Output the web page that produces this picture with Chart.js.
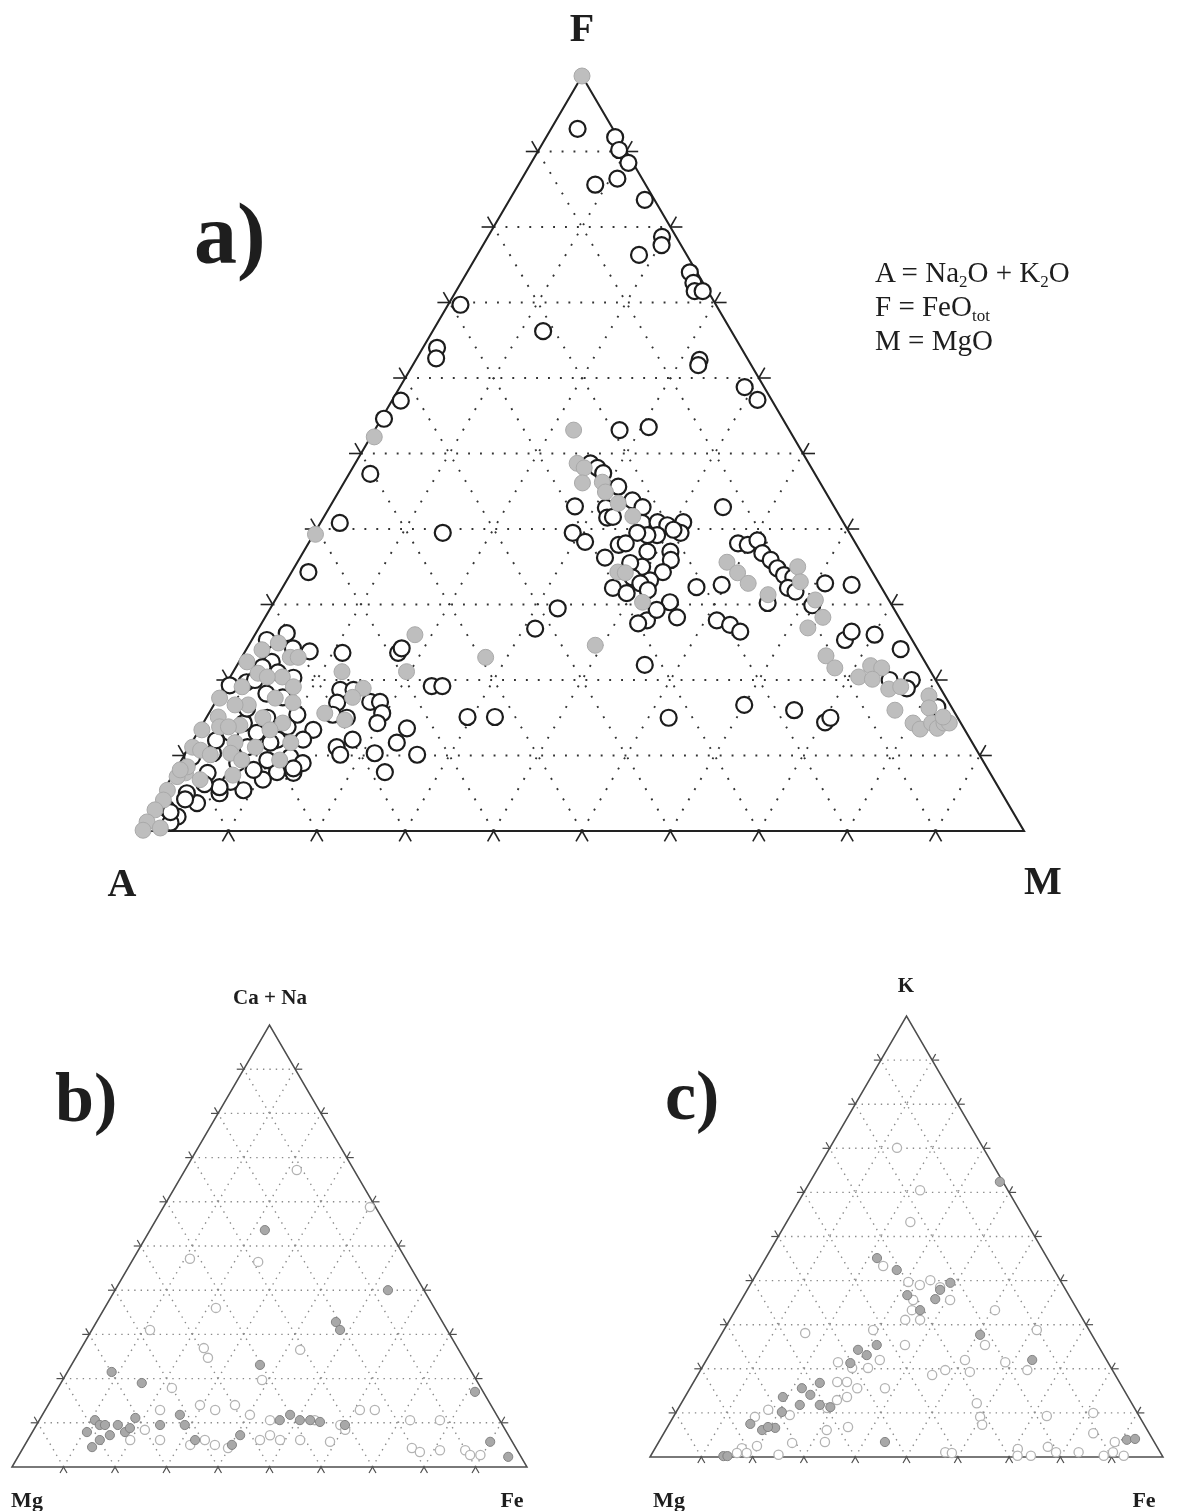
<!DOCTYPE html>
<html>
<head>
<meta charset="utf-8">
<title>Ternary diagrams</title>
<script src="https://cdn.jsdelivr.net/npm/chart.js@4/dist/chart.umd.min.js"></script>
<style>
  html, body { margin: 0; padding: 0; background: #fff; }
  body { width: 1181px; height: 1511px; position: relative; overflow: hidden;
         font-family: "Liberation Serif", "Times New Roman", "DejaVu Serif", serif; color: #1e1e1e; }
  canvas { position: absolute; }
  .lbl { position: absolute; font-weight: bold; line-height: 1; white-space: nowrap; }
  .ctr { transform: translateX(-50%); }
  .leg { position: absolute; left: 875px; font-size: 29px; line-height: 1; white-space: nowrap; }
  .leg sub { font-size: 17px; vertical-align: -5px; line-height: 0; }
</style>
</head>
<body>
<canvas id="chartA" width="1181" height="900" style="left:0;top:0"></canvas>
<canvas id="chartB" width="590" height="551" style="left:0;top:960px"></canvas>
<canvas id="chartC" width="591" height="551" style="left:590px;top:960px"></canvas>

<div class="lbl ctr" style="left:582px;top:8px;font-size:40px">F</div>
<div class="lbl ctr" style="left:122px;top:863px;font-size:40px">A</div>
<div class="lbl ctr" style="left:1043px;top:861px;font-size:40px">M</div>
<div class="lbl" style="left:194px;top:191px;font-size:86px">a)</div>
<div class="leg" style="top:258px">A = Na<sub>2</sub>O + K<sub>2</sub>O</div>
<div class="leg" style="top:292px">F = FeO<sub>tot</sub></div>
<div class="leg" style="top:326px">M = MgO</div>

<div class="lbl ctr" style="left:270px;top:987px;font-size:21px">Ca + Na</div>
<div class="lbl" style="left:55px;top:1063px;font-size:70px">b)</div>
<div class="lbl ctr" style="left:27px;top:1489px;font-size:22px">Mg</div>
<div class="lbl ctr" style="left:512px;top:1489px;font-size:22px">Fe</div>

<div class="lbl ctr" style="left:906px;top:975px;font-size:21px">K</div>
<div class="lbl" style="left:665px;top:1061px;font-size:70px">c)</div>
<div class="lbl ctr" style="left:669px;top:1489px;font-size:22px">Mg</div>
<div class="lbl ctr" style="left:1144px;top:1489px;font-size:22px">Fe</div>

<script>
// Gridline / tick positions along every edge (percent)
const TICKS = [10, 20, 30, 40, 50, 60, 70, 80, 90];

// a) AFM: each point is [F, M] in percent, A = 100 - F - M
const afmOpen = [
  [93.0,3.0],[91.9,7.8],[90.2,9.1],[88.5,11.0],[86.4,10.8],[85.6,8.7],[83.6,15.3],[78.7,19.7],[77.6,20.2],
  [76.3,18.3],[74.0,25.2],[72.6,26.3],[71.5,27.0],[71.5,27.9],[66.2,12.5],[69.7,1.4],[64.0,1.6],[62.6,2.2],
  [62.4,32.1],[61.7,32.3],[58.8,39.0],[57.1,41.3],[57.0,1.0],[54.6,0.3],[47.3,2.4],[40.8,2.2],[34.3,1.9],
  [39.5,14.5],[53.1,27.7],[53.5,30.8],
  [48.7,26.6],[48.1,27.7],[47.4,28.7],[45.6,31.3],[43.0,27.7],[42.8,31.3],[43.8,33.8],[42.9,35.4],[41.5,32.1],
  [41.6,32.7],[40.8,36.4],[40.9,38.1],[40.5,39.4],[40.9,41.0],[39.5,41.4],[39.9,40.4],[39.2,38.9],[39.2,37.8],
  [39.5,36.5],[39.5,29.2],[38.3,31.2],[37.9,35.2],[38.1,35.9],[37.0,38.9],[37.0,41.5],[35.9,42.1],[34.3,42.0],
  [35.0,39.3],[35.5,37.7],[36.2,34.5],[33.6,38.9],[33.2,41.1],[32.8,40.2],[32.2,37.4],[31.5,39.3],[31.9,41.5],
  [30.3,44.8],[28.3,46.6],[27.9,43.4],[27.5,42.6],[29.3,43.8],[32.3,46.8],[32.6,49.5],[42.9,44.5],[29.5,32.5],
  [26.8,31.3],[22.0,46.1],[15.0,52.3],
  [27.9,51.3],[27.3,53.1],[26.4,54.7],[38.1,48.6],[37.9,49.8],[38.5,50.6],[36.8,52.0],[35.9,53.4],[34.8,54.7],
  [33.9,55.9],[33.6,57.1],[32.2,57.2],[31.7,58.3],[32.8,61.1],[32.6,64.2],[30.2,55.9],[16.0,66.0],[14.4,70.3],
  [15.0,70.6],[16.7,60.0],[25.3,67.1],[26.4,67.3],[26.0,70.1],[24.1,74.0],[20.0,74.8],[20.0,77.3],[18.9,77.3],
  [16.4,82.0],[29.9,61.1],
  [23.6,17.4],[24.2,17.5],[19.2,23.4],[19.2,24.6],[15.1,29.5],[15.1,32.6],
  [26.2,3.5],[23.8,7.3],[23.6,11.1],[25.3,1.7],[24.2,5.2],[22.4,3.7],[21.7,3.0],[19.7,2.2],[19.3,0.5],
  [20.0,3.0],[20.3,7.2],[17.7,7.3],[15.4,10.1],[13.4,12.9],[12.1,12.4],[9.8,12.1],[9.0,13.9],[7.7,13.5],
  [7.8,11.6],[6.8,10.5],[5.4,9.0],[6.5,7.0],[5.0,6.5],[5.8,6.1],[3.7,4.6],[5.0,2.8],[1.9,3.3],[1.1,2.9],
  [8.1,8.8],[9.4,9.7],[11.1,6.6],[13.0,6.7],[14.3,4.6],[13.0,3.7],[15.0,6.9],[12.1,9.5],[13.8,9.8],[8.3,13.2],
  [11.7,8.9],[9.0,6.5],[7.7,3.8],[10.3,3.1],[9.8,1.0],[3.0,1.5],[2.5,2.2],[4.2,3.0],[6.2,4.2],[12.0,2.6],
  [16.2,4.0],[18.2,5.2],[21.0,5.1],
  [18.7,13.3],[18.7,14.8],[17.1,17.5],[17.1,18.6],[15.6,19.6],[14.3,19.7],[17.0,13.8],[15.4,14.1],[15.0,15.9],
  [12.1,18.0],[11.1,16.7],[10.1,17.6],[10.3,21.4],[7.8,23.8],[11.7,23.2],[13.6,23.4],[10.1,26.3]
];
const afmFilled = [
  [100,0],[52.2,0.4],[39.3,0.2],[53.1,22.5],[48.7,25.1],[48.1,26.2],[46.1,27.0],[46.2,29.2],[44.9,30.2],
  [43.4,32.4],[41.7,34.9],[34.3,36.9],[34.2,37.8],[30.3,41.7],[24.6,39.2],[23.0,27.6],
  [35.6,48.6],[34.2,50.5],[32.8,52.4],[31.3,55.4],[35.0,56.9],[33.0,58.2],[30.6,61.1],[28.3,63.1],[26.9,62.1],
  [23.2,66.0],[21.6,67.8],[21.9,71.7],[21.6,73.1],[20.4,71.1],[20.1,72.8],[18.8,75.3],[19.1,76.5],[17.9,80.3],
  [16.3,81.1],[16.0,77.4],[14.3,80.3],[13.5,81.5],[14.3,82.4],[13.6,83.4],[14.3,83.8],[14.3,84.4],[15.1,83.3],
  [24.9,3.2],[24.0,1.8],[22.4,0.9],[23.0,5.5],[23.0,6.4],[20.9,2.9],[20.4,5.9],[20.4,4.2],[19.1,2.0],
  [19.1,7.8],[17.6,0.2],[17.6,6.5],[17.0,8.8],[16.7,3.9],[16.7,2.4],[15.1,1.3],[14.0,4.3],[15.0,6.4],
  [14.3,9.0],[13.4,0.3],[13.4,8.0],[13.8,2.1],[13.8,3.1],[11.7,4.9],[11.1,7.5],[11.1,0.4],[10.7,1.5],
  [10.3,5.1],[9.4,6.8],[10.1,2.9],[11.7,11.2],[9.4,11.1],[7.7,1.3],[7.2,0.6],[6.8,3.4],[7.4,6.8],
  [5.4,0.4],[4.1,0.6],[2.8,0.3],[1.2,0.2],[0.4,2.1],[0.1,0.3],[8.5,1.1],[8.1,0.5],
  [21.1,12.3],[18.9,15.8],[17.7,15.2],[15.6,13.1],[14.7,15.8],[26.0,18.1],[21.1,19.6]
];

// b) each point is [Ca + Na, Fe] in percent, Mg = remainder
const caNaOpen = [
  [67.2,21.7],[58.8,40.1],[47.1,11.0],[46.4,24.6],[31.0,11.3],[26.9,23.8],[24.7,25.7],[19.7,38.7],[17.9,22.1],
  [12.9,22.3],[14.0,29.5],[12.9,33.0],[14.0,36.3],[11.8,40.3],[10.6,44.8],[10.6,53.5],[9.5,59.0],[6.1,34.4],
  [5.0,36.9],[6.1,45.1],[7.2,46.5],[6.1,49.0],[6.1,52.9],[5.7,58.9],[8.4,60.5],[10.6,72.0],[10.6,77.8],
  [4.3,75.5],[3.4,77.5],[3.8,81.2],[3.8,86.1],[2.7,87.6],[2.7,89.6],[6.1,25.7],[8.4,21.6],[6.1,19.9],
  [5.0,32.1],[4.3,39.8],[12.9,61.1],[12.9,64.0],[36.0,21.6],[26.5,42.7]
];
const caNaFilled = [
  [53.6,22.3],[40.0,53.0],[32.8,46.5],[31.0,48.2],[23.1,36.6],[21.5,8.6],[19.0,15.7],[11.8,26.7],[9.5,28.8],
  [6.1,32.5],[5.0,40.2],[10.6,46.7],[11.8,48.1],[10.6,50.6],[10.6,52.6],[10.2,54.7],[9.5,59.9],[10.6,10.8],
  [9.5,12.3],[9.5,13.3],[9.5,15.8],[7.9,18.0],[8.8,18.5],[11.1,18.4],[7.2,15.4],[6.1,14.0],[4.5,13.3],
  [7.9,10.6],[9.5,24.0],[17.0,81.4],[5.7,90.0],[2.3,95.2],[7.2,40.7]
];

// c) each point is [K, Fe] in percent, Mg = remainder
const kOpen = [
  [70.1,13.1],[60.5,22.4],[53.3,24.1],[43.3,23.8],[39.7,30.5],[39.0,33.1],[40.1,34.6],[38.5,37.3],[35.6,33.5],
  [33.3,34.4],[31.1,34.2],[31.1,37.1],[35.6,40.7],[33.3,50.6],[28.8,61.0],[19.7,63.7],[22.0,50.4],[19.3,52.7],
  [25.4,52.6],[21.5,58.5],[19.7,47.7],[18.6,45.7],[25.4,37.0],
  [28.1,16.2],[28.8,29.1],[21.5,25.9],[20.2,29.3],[22.0,33.8],[20.2,32.4],[17.0,28.0],[17.0,29.9],[15.6,32.6],
  [13.6,31.6],[15.6,38.0],[12.9,30.0],[11.1,29.0],[10.7,17.7],[9.5,22.5],[9.1,15.9],[6.8,35.2],[6.1,31.4],
  [3.4,32.4],[3.2,26.1],[0.5,24.8],[2.5,19.6],[2.0,16.9],[0.9,16.5],[0.9,18.4],
  [12.2,57.6],[9.1,59.8],[7.3,61.1],[1.1,57.0],[0.9,58.4],[1.8,70.8],[0.3,71.5],[0.3,74.1],[9.3,72.7],
  [2.3,76.4],[1.1,78.6],[1.1,83.0],[10.0,81.4],[5.4,83.7],[3.4,88.9],[1.1,89.7],[0.3,88.3],[0.3,92.2]
];
const kFilled = [
  [62.4,37.0],[45.1,21.7],[42.4,26.9],[36.7,31.8],[37.9,37.6],[35.8,37.7],[39.5,38.8],[33.3,36.0],[27.7,50.5],
  [22.0,63.5],
  [24.3,28.4],[23.1,30.7],[25.4,31.5],[21.3,28.4],[15.6,21.8],[16.8,24.7],[14.1,24.2],[13.6,19.1],[11.8,23.3],
  [11.8,27.2],[11.3,29.5],[7.5,15.8],[6.1,18.8],[6.6,21.1],[6.8,19.6],[10.2,20.6],[0.2,14.2],[0.2,15.0],
  [3.4,44.1],[3.9,91.0],[4.1,92.5]
];

// [top, right] composition -> cartesian position inside the triangle
const toXY = pts => pts.map(([top, right]) => ({ x: right + top / 2, y: top }));

// Triangle frame, dotted grid and arrow-head ticks, drawn beneath the points
const ternaryFrame = {
  id: 'ternaryFrame',
  beforeDatasetsDraw(chart, args, o) {
    const ctx = chart.ctx, sx = chart.scales.x, sy = chart.scales.y;
    const px = (top, right) => [sx.getPixelForValue(right + top / 2), sy.getPixelForValue(top)];
    const seg = (a, b) => { ctx.beginPath(); ctx.moveTo(a[0], a[1]); ctx.lineTo(b[0], b[1]); ctx.stroke(); };
    ctx.save();
    ctx.strokeStyle = o.gridColor;
    ctx.lineWidth = o.gridWidth;
    ctx.setLineDash(o.gridDash);
    for (const v of TICKS) {
      seg(px(v, 0), px(v, 100 - v));        // constant top component
      seg(px(0, v), px(100 - v, v));        // constant right component
      seg(px(0, 100 - v), px(100 - v, 0));  // constant left component
    }
    ctx.setLineDash([]);
    ctx.strokeStyle = o.edgeColor;
    ctx.lineWidth = o.edgeWidth;
    const c = [px(0, 0), px(100, 0), px(0, 100)];
    ctx.beginPath();
    ctx.moveTo(c[0][0], c[0][1]); ctx.lineTo(c[1][0], c[1][1]); ctx.lineTo(c[2][0], c[2][1]);
    ctx.closePath();
    ctx.stroke();
    ctx.lineWidth = o.tickWidth;
    const L = o.tickLen;
    const arms = (p, angles) => angles.forEach(a => {
      const r = a * Math.PI / 180;
      seg(p, [p[0] + L * Math.cos(r), p[1] - L * Math.sin(r)]);
    });
    for (const v of TICKS) {
      arms(px(0, v), [240, 300]);           // bottom edge
      arms(px(v, 0), [120, 180]);           // left edge
      arms(px(v, 100 - v), [0, 60]);        // right edge
    }
    ctx.restore();
  }
};

function ternaryChart(id, padding, filled, open, style) {
  return new Chart(document.getElementById(id), {
    type: 'scatter',
    data: {
      datasets: [
        { data: toXY(filled), backgroundColor: style.fillBg, borderColor: style.fillBorder,
          borderWidth: style.fillBw, pointRadius: style.r, pointHoverRadius: style.r, clip: false },
        { data: toXY(open), backgroundColor: '#ffffff', borderColor: style.openBorder,
          borderWidth: style.openBw, pointRadius: style.r, pointHoverRadius: style.r, clip: false }
      ]
    },
    options: {
      responsive: false,
      animation: false,
      events: [],
      layout: { padding },
      scales: {
        x: { type: 'linear', min: 0, max: 100, display: false },
        y: { type: 'linear', min: 0, max: 100, display: false }
      },
      plugins: {
        legend: { display: false },
        tooltip: { enabled: false },
        ternaryFrame: style.frame
      }
    },
    plugins: [ternaryFrame]
  });
}

const bigFrame = { gridColor: '#333333', gridWidth: 1.9, gridDash: [1.9, 10], edgeColor: '#222222',
                   edgeWidth: 2.1, tickWidth: 1.6, tickLen: 12 };
const smallFrame = { gridColor: '#8a8a8a', gridWidth: 1.4, gridDash: [1.4, 5], edgeColor: '#4d4d4d',
                     edgeWidth: 1.5, tickWidth: 1.2, tickLen: 7 };

ternaryChart('chartA', { left: 140, right: 157, top: 76, bottom: 69 }, afmFilled, afmOpen,
  { r: 8, fillBg: '#bebebe', fillBorder: '#a9a9a9', fillBw: 1, openBorder: '#1c1c1c', openBw: 2.2, frame: bigFrame });
ternaryChart('chartB', { left: 12, right: 63, top: 65, bottom: 44 }, caNaFilled, caNaOpen,
  { r: 4.6, fillBg: '#a8a8a8', fillBorder: '#838383', fillBw: 1, openBorder: '#b3b3b3', openBw: 1.3, frame: smallFrame });
ternaryChart('chartC', { left: 60, right: 18, top: 56, bottom: 54 }, kFilled, kOpen,
  { r: 4.6, fillBg: '#a8a8a8', fillBorder: '#838383', fillBw: 1, openBorder: '#b3b3b3', openBw: 1.3, frame: smallFrame });
</script>
</body>
</html>
